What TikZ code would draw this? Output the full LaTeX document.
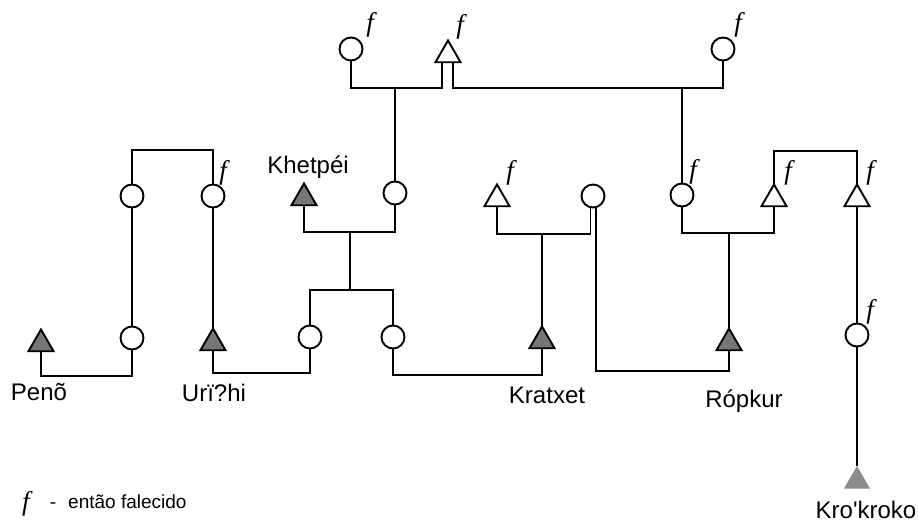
\documentclass[tikz,border=0pt]{standalone}
\usepackage{fontspec}
\setmainfont{Liberation Sans}
\newfontfamily\ffont{Liberation Serif}
\usetikzlibrary{shapes.geometric}
\definecolor{egogray}{RGB}{118,118,118}
\definecolor{lightgray2}{RGB}{140,140,140}
\begin{document}
\begin{tikzpicture}[x=1pt,y=-1pt,
  kin/.style={line width=1.9pt},
  circ/.style={circle,draw,line width=1.9pt,fill=white,minimum size=23pt,inner sep=0pt,outer sep=0pt},
  tri/.style={regular polygon,regular polygon sides=3,draw,line width=1.9pt,minimum size=29pt,inner sep=0pt,outer sep=0pt},
  male/.style={tri,fill=white},
  ego/.style={tri,fill=egogray},
  egolight/.style={tri,draw=none,fill=lightgray2,minimum size=30pt},
  lbl/.style={font=\fontsize{24}{27}\selectfont,anchor=base,inner sep=0pt},
  leg/.style={font=\fontsize{19}{22}\selectfont,anchor=base,inner sep=0pt},
  dec/.style={font=\ffont\itshape\fontsize{27}{30}\selectfont,anchor=base,inner sep=0pt}]
\useasboundingbox (0,0) rectangle (918,522);
% top generation
\node[circ] (C1) at (351,49) {};
\node[male] (T1) at (448,55) {};
\node[circ] (C2) at (723,49) {};
% second generation
\node[circ] (C3) at (132,196) {};
\node[circ] (C4) at (213,196) {};
\node[ego]  (T2) at (304,198) {};
\node[circ] (C6) at (395,193) {};
\node[male] (T3) at (497,199) {};
\node[circ] (C9) at (593,196) {};
\node[circ] (C10) at (682,195) {};
\node[male] (T4) at (774,199) {};
\node[male] (T5) at (857,199) {};
% third generation
\node[ego]  (T6) at (41,344) {};
\node[circ] (C5) at (132,338) {};
\node[ego]  (T7) at (213,343) {};
\node[circ] (C7) at (310,337) {};
\node[circ] (C8) at (393,337) {};
\node[ego]  (T8) at (542,341) {};
\node[ego]  (T9) at (729,343) {};
\node[circ] (C11) at (857,335) {};
\node[egolight] (T10) at (857,481) {};
% helper coordinates
\coordinate (t1l) at ([xshift=-6pt]T1.side 2);
\coordinate (t1r) at ([xshift=5pt]T1.side 2);
\coordinate (c9l) at ([xshift=-2.5pt]C9.south);
\coordinate (c9r) at ([xshift=3pt]C9.south);
\coordinate (m1) at (C6.north |- 0,88);
\coordinate (m2) at (C10.north |- 0,88);
\coordinate (m3a) at (350,232);
\coordinate (m3b) at (350,290);
\coordinate (m4) at (T8.corner 1 |- 0,234);
\coordinate (m5) at (T9.corner 1 |- 0,233);
% connectors
\draw[kin] (C1.south) |- (t1l |- 0,88) -- (t1l);
\draw[kin] (C2.south) |- (t1r |- 0,88) -- (t1r);
\draw[kin] (m1) -- (C6.north);
\draw[kin] (m2) -- (C10.north);
\draw[kin] (C3.north) |- (C4.north |- 0,150) -- (C4.north);
\draw[kin] (C3.south) -- (C5.north);
\draw[kin] (C4.south) -- (T7.corner 1);
\draw[kin] (T2.side 2) |- (C6.south |- 0,232) -- (C6.south);
\draw[kin] (m3a) -- (m3b);
\draw[kin] (C7.north) |- (C8.north |- 0,290) -- (C8.north);
\draw[kin] (T3.side 2) |- (c9l |- 0,234) -- (c9l);
\draw[kin] (m4) -- (T8.corner 1);
\draw[kin] (c9r) |- (T9.side 2 |- 0,371) -- (T9.side 2);
\draw[kin] (C10.south) |- (T4.side 2 |- 0,233) -- (T4.side 2);
\draw[kin] (m5) -- (T9.corner 1);
\draw[kin] (T4.corner 1) |- (T5.corner 1 |- 0,151) -- (T5.corner 1);
\draw[kin] (T5.side 2) -- (C11.north);
\draw[kin] (C11.south) -- (T10.corner 1);
\draw[kin] (T6.side 2) |- (C5.south |- 0,376) -- (C5.south);
\draw[kin] (T7.side 2) |- (C7.south |- 0,373) -- (C7.south);
\draw[kin] (C8.south) |- (T8.side 2 |- 0,375) -- (T8.side 2);
% deceased marks
\node[dec] (f1) at (370,31) {f};
\node[dec] (f2) at (460,33) {f};
\node[dec] (f3) at (738,31) {f};
\node[dec] (f4) at (223,179) {f};
\node[dec] (f5) at (510,179) {f};
\node[dec] (f6) at (693,178) {f};
\node[dec] (f7) at (788,179) {f};
\node[dec] (f8) at (870,179) {f};
\node[dec] (f9) at (870,318) {f};
% labels
\node[lbl] (lPeno) at (39,400) {Penõ};
\node[lbl] (lUri) at (214,401) {Urï?hi};
\node[lbl] (lKhet) at (308,173) {Khetpéi};
\node[lbl] (lKrat) at (547,403) {Kratxet};
\node[lbl] (lRop) at (744,407) {Rópkur};
\node[lbl] (lKro) at (866,518) {Kro\textquotesingle kroko};
% legend
\node[dec] (lf) at (26,510) {f};
\node[leg] (ldash) at (53,508) {-};
\node[leg,anchor=base west] (ltext) at (68,508) {então falecido};
\end{tikzpicture}
\end{document}
